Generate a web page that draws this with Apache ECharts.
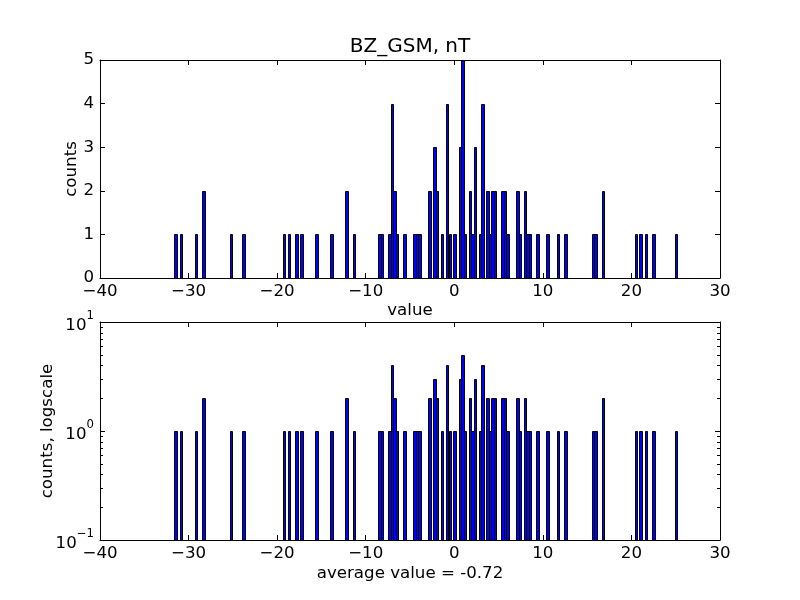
<!DOCTYPE html>
<html><head><meta charset="utf-8">
<script src="https://cdn.jsdelivr.net/npm/echarts@6/dist/echarts.min.js"></script>
<style>html,body{margin:0;padding:0;background:#fff}#c{width:800px;height:600px}</style>
</head><body><div id="c"></div>
<script>
// ---- data (200 bins) ----
const binWidth = 0.2838;
const barCenters = [
  -31.45, -30.88, -29.18, -28.33, -25.20, -23.79, -19.24, -18.68, -17.83, -17.26,
  -15.55, -13.85, -12.15, -11.30,
  -8.46, -8.18, -7.33, -7.04, -6.76, -6.47, -5.62, -4.49, -4.20, -3.92,
  -2.78, -2.22, -1.93, -1.37, -0.80, -0.51, 0.05, 0.62, 0.91, 1.19,
  1.76, 2.04, 2.32, 2.89, 3.18, 3.74, 4.03, 4.31, 4.59, 5.45, 5.73, 6.01,
  7.15, 7.43, 8.00, 8.28, 8.57, 9.42, 10.55, 11.69, 12.54,
  15.66, 15.95, 16.80, 20.49, 21.05, 21.62, 22.47, 25.03
];
const barCounts = [
  1, 1, 1, 2, 1, 1, 1, 1, 1, 1,
  1, 1, 2, 1,
  1, 1, 1, 4, 2, 1, 1, 1, 1, 1,
  2, 3, 2, 1, 4, 1, 1, 3, 5, 1,
  2, 1, 3, 1, 4, 2, 1, 2, 2, 2, 2, 1,
  2, 1, 2, 1, 1, 1, 1, 1, 1,
  1, 1, 2, 1, 1, 1, 1, 1
];
const xTicks = [-40, -30, -20, -10, 0, 10, 20, 30];
const countTicks = [0, 1, 2, 3, 4, 5];
const logMajor = [0.1, 1, 10];
const logMinor = [0.2, 0.3, 0.4, 0.5, 0.6, 0.7, 0.8, 0.9, 2, 3, 4, 5, 6, 7, 8, 9];
const titleText = 'BZ_GSM, nT';
const topXLabel = 'value';
const topYLabel = 'counts';
const botXLabel = 'average value = -0.72';
const botYLabel = 'counts, logscale';

// ---- chart ----
const FONT = 'DejaVu Sans';
const FS = 16.67;
const chart = echarts.init(document.getElementById('c'), null, {renderer: 'canvas'});
const xMin = xTicks[0], xMax = xTicks[xTicks.length - 1];
const minus = v => String(v).replace('-', '\u2212');

function xAx(grid, bottom) {
  return {
    type: 'value', gridIndex: grid, min: xMin, max: xMax, interval: 10,
    position: bottom ? 'bottom' : 'top',
    axisLine: {show: true, onZero: false, lineStyle: {color: '#000', width: 1}},
    axisTick: {show: true, inside: true, length: 5, lineStyle: {color: '#000', width: 1}},
    axisLabel: {show: bottom, margin: 5, color: '#000', fontFamily: FONT, fontSize: FS, formatter: minus},
    splitLine: {show: false}
  };
}
function yLin(grid, left) {
  return {
    type: 'value', gridIndex: grid, min: countTicks[0], max: countTicks[countTicks.length - 1], interval: 1,
    position: left ? 'left' : 'right',
    axisLine: {show: true, onZero: false, lineStyle: {color: '#000', width: 1}},
    axisTick: {show: true, inside: true, length: 5, lineStyle: {color: '#000', width: 1}},
    axisLabel: {show: left, margin: 6, color: '#000', fontFamily: FONT, fontSize: FS},
    splitLine: {show: false}
  };
}
function yLog(grid, left) {
  return {
    type: 'log', logBase: 10, gridIndex: grid, min: logMajor[0], max: logMajor[logMajor.length - 1],
    position: left ? 'left' : 'right',
    axisLine: {show: true, onZero: false, lineStyle: {color: '#000', width: 1}},
    axisTick: {show: true, inside: true, length: 5, lineStyle: {color: '#000', width: 1}},
    axisLabel: {
      show: left, margin: 6, color: '#000', fontFamily: FONT,
      formatter: v => '{b|10}{s|' + minus(Math.round(Math.log10(v))) + '}',
      rich: {
        b: {fontFamily: FONT, fontSize: FS, color: '#000', padding: [8, 0, 0, 0]},
        s: {fontFamily: FONT, fontSize: 11.7, color: '#000', verticalAlign: 'top'}
      }
    },
    splitLine: {show: false}
  };
}

function barRender(base) {
  return function (params, api) {
    const c = api.value(0), n = api.value(1);
    const a = api.coord([c - binWidth / 2, base]);
    const b = api.coord([c + binWidth / 2, n]);
    const x0 = Math.round(a[0]), x1 = Math.round(b[0]);
    const y0 = Math.round(a[1]), y1 = Math.round(b[1]);
    return {
      type: 'rect',
      shape: {x: x0 + 0.5, y: y1 + 0.5, width: x1 - x0, height: y0 - y1},
      style: {fill: '#0000ff', stroke: '#000', lineWidth: 1}
    };
  };
}
function minorRender(params, api) {
  const v = api.value(1);
  const l = api.coord([xMin, v]);
  const r = api.coord([xMax, v]);
  const y = Math.round(l[1]) + 0.5;
  return {
    type: 'group', children: [
      {type: 'line', shape: {x1: l[0], y1: y, x2: l[0] + 3, y2: y}, style: {stroke: '#000', lineWidth: 1}},
      {type: 'line', shape: {x1: r[0] - 3, y1: y, x2: r[0], y2: y}, style: {stroke: '#000', lineWidth: 1}}
    ]
  };
}

const barData = barCenters.map((c, i) => [c, barCounts[i]]);

chart.setOption({
  animation: false,
  backgroundColor: '#fff',
  grid: [
    {left: 100, right: 80, top: 60, height: 218},
    {left: 100, right: 80, top: 322, height: 218}
  ],
  xAxis: [xAx(0, true), xAx(0, false), xAx(1, true), xAx(1, false)],
  yAxis: [yLin(0, true), yLin(0, false), yLog(1, true), yLog(1, false)],
  series: [
    {type: 'custom', xAxisIndex: 0, yAxisIndex: 0, data: barData, renderItem: barRender(0), clip: true, silent: true},
    {type: 'custom', xAxisIndex: 2, yAxisIndex: 2, data: barData, renderItem: barRender(logMajor[0]), clip: true, silent: true},
    {type: 'custom', xAxisIndex: 2, yAxisIndex: 2, data: logMinor.map(v => [xMin, v]), renderItem: minorRender, silent: true, z: 5}
  ],
  graphic: [
    {type: 'text', x: 410, y: 47, style: {text: titleText, font: '20px "DejaVu Sans"', fill: '#000', textAlign: 'center', textVerticalAlign: 'middle'}},
    {type: 'text', x: 410, y: 311, style: {text: topXLabel, font: FS + 'px "DejaVu Sans"', fill: '#000', textAlign: 'center', textVerticalAlign: 'middle'}},
    {type: 'text', x: 410, y: 574, style: {text: botXLabel, font: FS + 'px "DejaVu Sans"', fill: '#000', textAlign: 'center', textVerticalAlign: 'middle'}},
    {type: 'text', x: 72, y: 169, rotation: Math.PI / 2, style: {text: topYLabel, font: FS + 'px "DejaVu Sans"', fill: '#000', textAlign: 'center', textVerticalAlign: 'middle'}},
    {type: 'text', x: 48, y: 431, rotation: Math.PI / 2, style: {text: botYLabel, font: FS + 'px "DejaVu Sans"', fill: '#000', textAlign: 'center', textVerticalAlign: 'middle'}}
  ]
});
</script></body></html>
